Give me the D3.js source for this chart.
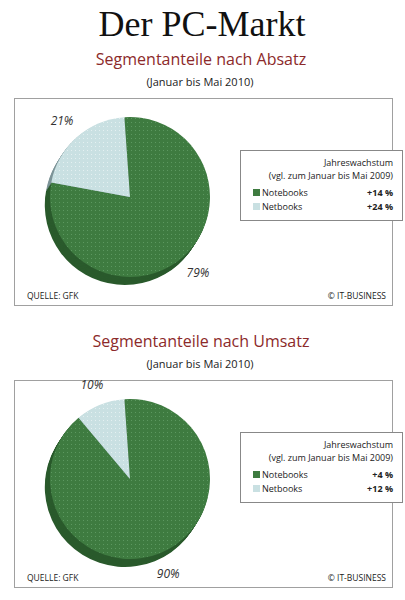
<!DOCTYPE html>
<html>
<head>
<meta charset="utf-8">
<title>Der PC-Markt</title>
<script src="https://cdn.jsdelivr.net/npm/d3@7"></script>
<style>
  body { margin: 0; background: #fff; }
  svg { display: block; }
</style>
</head>
<body>
<svg width="405" height="600"></svg>
<script>

// data
var segments = ["Notebooks", "Netbooks"];
var absatzShare = [79, 21];
var umsatzShare = [90, 10];
var absatzGrowth = ["+14 %", "+24 %"];
var umsatzGrowth = ["+4 %", "+12 %"];
var chartTitles = ["Segmentanteile nach Absatz", "Segmentanteile nach Umsatz"];
var period = "(Januar bis Mai 2010)";

var topColor = d3.scaleOrdinal().domain(segments).range(["#3e7b40", "#c9e0e2"]);
var sideColor = d3.scaleOrdinal().domain(segments).range(["#2a5a2c", "#7d9498"]);
var dotColor = d3.scaleOrdinal().domain(segments).range(["#5c9860", "#e4f0f1"]);

var svg = d3.select("svg");
var defs = svg.append("defs");

segments.forEach(function(s, i) {
  var p = defs.append("pattern")
      .attr("id", "dots" + i)
      .attr("width", 4).attr("height", 4)
      .attr("patternUnits", "userSpaceOnUse");
  p.append("rect").attr("width", 4).attr("height", 4).attr("fill", topColor(s));
  p.append("rect").attr("x", 1).attr("y", 1).attr("width", 1).attr("height", 1)
      .attr("fill", dotColor(s));
});

svg.append("text")
    .attr("x", 202).attr("y", 36)
    .attr("text-anchor", "middle")
    .style("font-family", "'Liberation Serif', serif")
    .style("font-size", "36px")
    .attr("fill", "#111")
    .text("Der PC-Markt");

var pie = d3.pie().sort(null)
    .startAngle(-4 * Math.PI / 180)
    .endAngle(2 * Math.PI - 4 * Math.PI / 180);

var r = 80;
var arc = d3.arc().innerRadius(0).outerRadius(r);
var labelArc = d3.arc().innerRadius(102).outerRadius(102);

function drawChart(top, shares, growth, title) {
  var g = svg.append("g").attr("transform", "translate(0," + top + ")");

  g.append("text")
      .attr("x", 201).attr("y", 65)
      .attr("text-anchor", "middle")
      .style("font-family", "'Open Sans', sans-serif")
      .style("font-size", "16px")
      .attr("fill", "#8c2a2a")
      .text(title);

  g.append("text")
      .attr("x", 200).attr("y", 86)
      .attr("text-anchor", "middle")
      .style("font-family", "'Open Sans', sans-serif")
      .style("font-size", "11px")
      .attr("fill", "#222")
      .text(period);

  g.append("rect")
      .attr("x", 14.5).attr("y", 98.5)
      .attr("width", 378).attr("height", 207)
      .attr("fill", "#fff")
      .attr("stroke", "#a0a0a0");

  var arcs = pie(shares);
  var cx = 130, cy = 197;

  // 3D side: stacked darker copies, shifted down-left
  for (var k = 8; k >= 1; k--) {
    g.append("g")
        .attr("transform", "translate(" + (cx - k * 0.65) + "," + (cy + k) + ")")
      .selectAll("path")
      .data(arcs)
      .join("path")
        .attr("d", arc)
        .attr("fill", function(d, i) { return sideColor(segments[i]); });
  }

  var pg = g.append("g").attr("transform", "translate(" + cx + "," + cy + ")");
  pg.selectAll("path")
    .data(arcs)
    .join("path")
      .attr("d", arc)
      .attr("fill", function(d, i) { return "url(#dots" + i + ")"; });

  pg.selectAll("text")
    .data(arcs)
    .join("text")
      .attr("transform", function(d) { return "translate(" + labelArc.centroid(d) + ")"; })
      .attr("dy", "0.35em")
      .attr("text-anchor", "middle")
      .style("font-family", "'Open Sans', sans-serif")
      .style("font-size", "12px")
      .style("font-style", "italic")
      .attr("fill", "#333")
      .text(function(d) { return d.data + "%"; });

  // legend
  var lg = g.append("g");
  lg.append("rect")
      .attr("x", 240.5).attr("y", 150.5)
      .attr("width", 162).attr("height", 70)
      .attr("fill", "#fff")
      .attr("stroke", "#888");

  var legendFont = "'Open Sans', sans-serif";
  lg.append("text")
      .attr("x", 393).attr("y", 166)
      .attr("text-anchor", "end")
      .style("font-family", legendFont)
      .style("font-size", "9px")
      .attr("fill", "#222")
      .text("Jahreswachstum");
  lg.append("text")
      .attr("x", 393).attr("y", 179)
      .attr("text-anchor", "end")
      .style("font-family", legendFont)
      .style("font-size", "9px")
      .attr("fill", "#222")
      .text("(vgl. zum Januar bis Mai 2009)");

  var rows = lg.selectAll("g.row")
    .data(segments)
    .join("g")
      .attr("class", "row")
      .attr("transform", function(d, i) { return "translate(0," + (196 + i * 14) + ")"; });

  rows.append("rect")
      .attr("x", 253).attr("y", -7)
      .attr("width", 7).attr("height", 7)
      .attr("fill", function(d) { return topColor(d); });
  rows.append("text")
      .attr("x", 262)
      .style("font-family", legendFont)
      .style("font-size", "9px")
      .attr("fill", "#222")
      .text(function(d) { return d; });
  rows.append("text")
      .attr("x", 393)
      .attr("text-anchor", "end")
      .style("font-family", legendFont)
      .style("font-size", "9px")
      .style("font-weight", "bold")
      .attr("fill", "#222")
      .text(function(d, i) { return growth[i]; });

  g.append("text")
      .attr("x", 27).attr("y", 299)
      .style("font-family", legendFont)
      .style("font-size", "8.5px")
      .attr("fill", "#222")
      .text("QUELLE: GFK");
  g.append("text")
      .attr("x", 386).attr("y", 299)
      .attr("text-anchor", "end")
      .style("font-family", legendFont)
      .style("font-size", "8.5px")
      .attr("fill", "#222")
      .text("\u00a9 IT-BUSINESS");
}

drawChart(0, absatzShare, absatzGrowth, chartTitles[0]);
drawChart(282, umsatzShare, umsatzGrowth, chartTitles[1]);

</script>
</body>
</html>
